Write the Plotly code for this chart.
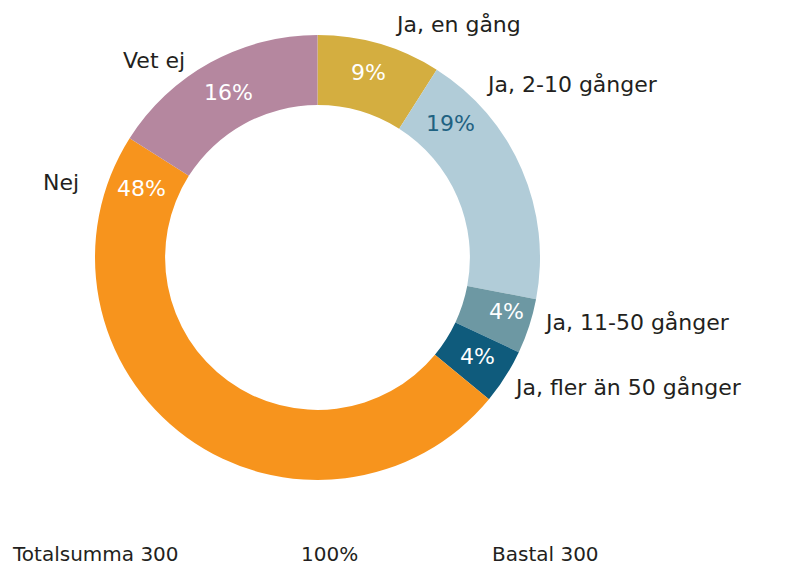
import plotly.graph_objects as go

# Survey answers (share of respondents, %)
categories = ["Ja, en gång", "Ja, 2-10 gånger", "Ja, 11-50 gånger",
              "Ja, fler än 50 gånger", "Nej", "Vet ej"]
shares = [9, 19, 4, 4, 48, 16]
colors = ["#D4AE40", "#B1CCD8", "#6D98A3", "#0F5B7C", "#F7941D", "#B5879F"]
pct_colors = ["white", "#1F6282", "white", "white", "white", "white"]

total_label = "Totalsumma 300"
total_pct = "100%"
base_label = "Bastal 300"

W, H = 798, 567
FONT = "DejaVu Sans"

# label placement in pixels (x, y, anchor)
pct_pos = [(368, 72), (450, 123), (506, 311), (477, 356), (141, 188), (228, 93)]
name_pos = [(393, 24, "left"), (484, 85, "left"), (542, 322, "left"),
            (512, 387, "left"), (81, 182, "right"), (187, 60, "right")]


def px(x, y):
    return x / W, 1 - y / H


fig = go.Figure()

fig.add_trace(go.Pie(
    labels=categories,
    values=shares,
    hole=0.685,
    sort=False,
    direction="clockwise",
    rotation=0,
    marker=dict(colors=colors, line=dict(width=0)),
    textinfo="none",
    showlegend=False,
    domain=dict(x=[95 / W, 540 / W], y=[1 - 480 / H, 1 - 35 / H]),
))

annotations = []
for v, c, (x, y) in zip(shares, pct_colors, pct_pos):
    ax, ay = px(x, y)
    annotations.append(dict(
        x=ax, y=ay, xref="paper", yref="paper", text=f"{v}%",
        showarrow=False, xanchor="center", yanchor="middle",
        font=dict(family=FONT, size=22, color=c),
    ))

for name, (x, y, anchor) in zip(categories, name_pos):
    ax, ay = px(x, y)
    annotations.append(dict(
        x=ax, y=ay, xref="paper", yref="paper", text=name,
        showarrow=False, xanchor=anchor, yanchor="middle",
        font=dict(family=FONT, size=22, color="#231F20"),
    ))

# footer line
for txt, x in [(total_label, 10), (total_pct, 299), (base_label, 490)]:
    ax, ay = px(x, 554)
    annotations.append(dict(
        x=ax, y=ay, xref="paper", yref="paper", text=txt,
        showarrow=False, xanchor="left", yanchor="middle",
        font=dict(family=FONT, size=20, color="#231F20"),
    ))

fig.update_layout(
    width=W,
    height=H,
    margin=dict(l=0, r=0, t=0, b=0),
    paper_bgcolor="white",
    plot_bgcolor="white",
    annotations=annotations,
)

fig.write_html("out.html", config={"displayModeBar": False},
               post_script="document.body.style.margin='0';")
